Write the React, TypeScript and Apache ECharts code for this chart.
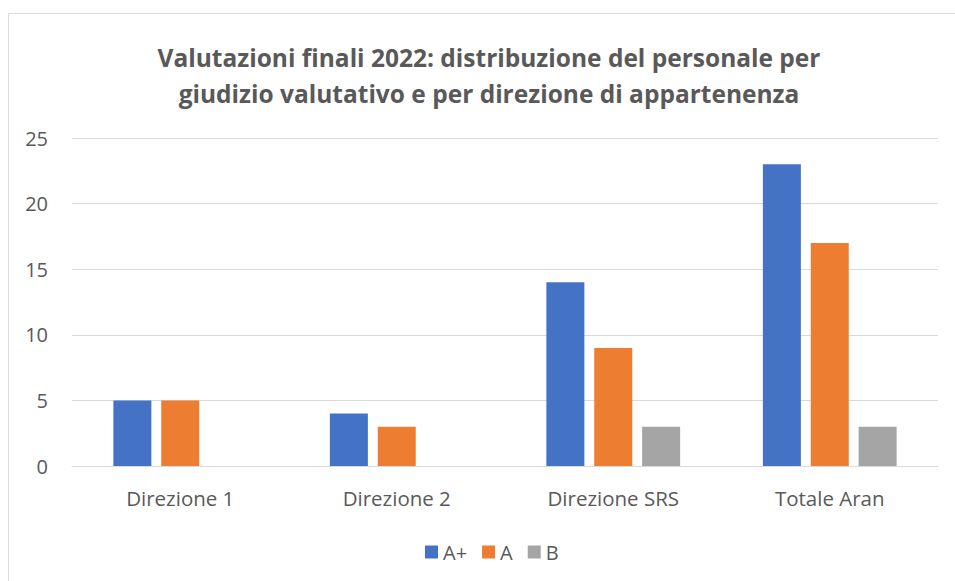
import React, { useEffect, useRef } from "react";
import * as echarts from "echarts";

const categories = ["Direzione 1", "Direzione 2", "Direzione SRS", "Totale Aran"];
const seriesNames = ["A+", "A", "B"];
const valuesAPlus = [5, 4, 14, 23];
const valuesA = [5, 3, 9, 17];
const valuesB = [0, 0, 3, 3];
const colors = ["#4472C4", "#ED7D31", "#A5A5A5"];

export default function App() {
  const ref = useRef<HTMLDivElement>(null);
  useEffect(() => {
    if (!ref.current) return;
    const chart = echarts.init(ref.current, undefined, { renderer: "svg" });
    const font = "'Open Sans', 'Noto Sans', sans-serif";
    const data = [valuesAPlus, valuesA, valuesB];
    chart.setOption({
      animation: false,
      backgroundColor: "#ffffff",
      textStyle: { fontFamily: font },
      title: {
        text: "Valutazioni finali 2022: distribuzione del personale per\ngiudizio valutativo e per direzione di appartenenza",
        left: 484,
        textAlign: "center",
        top: 34,
        textStyle: {
          fontFamily: font,
          fontSize: 24.5,
          fontWeight: "bold",
          color: "#595959",
          lineHeight: 36,
        },
      },
      graphic: [
        {
          type: "rect",
          shape: { x: 8.5, y: 13.5, width: 1000, height: 1000 },
          style: { fill: "none", stroke: "#d9d9d9", lineWidth: 1 },
          silent: true,
          z: -1,
        },
      ],
      legend: {
        data: seriesNames,
        bottom: 14,
        left: 420,
        itemWidth: 13,
        itemHeight: 13,
        itemGap: 15,
        icon: "rect",
        textStyle: { fontFamily: font, fontSize: 20, color: "#595959", padding: [0, 0, 0, 0] },
      },
      grid: { left: 72, right: 17, top: 138, bottom: 115, containLabel: false },
      xAxis: {
        type: "category",
        data: categories,
        axisLine: { lineStyle: { color: "#d9d9d9", width: 1 } },
        axisTick: { show: false },
        axisLabel: { fontFamily: font, fontSize: 20.5, color: "#595959", margin: 21 },
      },
      yAxis: {
        type: "value",
        min: 0,
        max: 25,
        interval: 5,
        axisLine: { show: false },
        axisTick: { show: false },
        splitLine: { lineStyle: { color: "#d9d9d9", width: 1 } },
        axisLabel: { fontFamily: font, fontSize: 20, color: "#595959", margin: 24 },
      },
      series: seriesNames.map((name, i) => ({
        name,
        type: "bar",
        data: data[i],
        barWidth: 38,
        barGap: "26%",
        itemStyle: { color: colors[i] },
      })),
    });
    return () => chart.dispose();
  }, []);
  return (
    <div
      ref={ref}
      style={{ position: "absolute", left: 0, top: 0, width: 955, height: 581 }}
    />
  );
}
